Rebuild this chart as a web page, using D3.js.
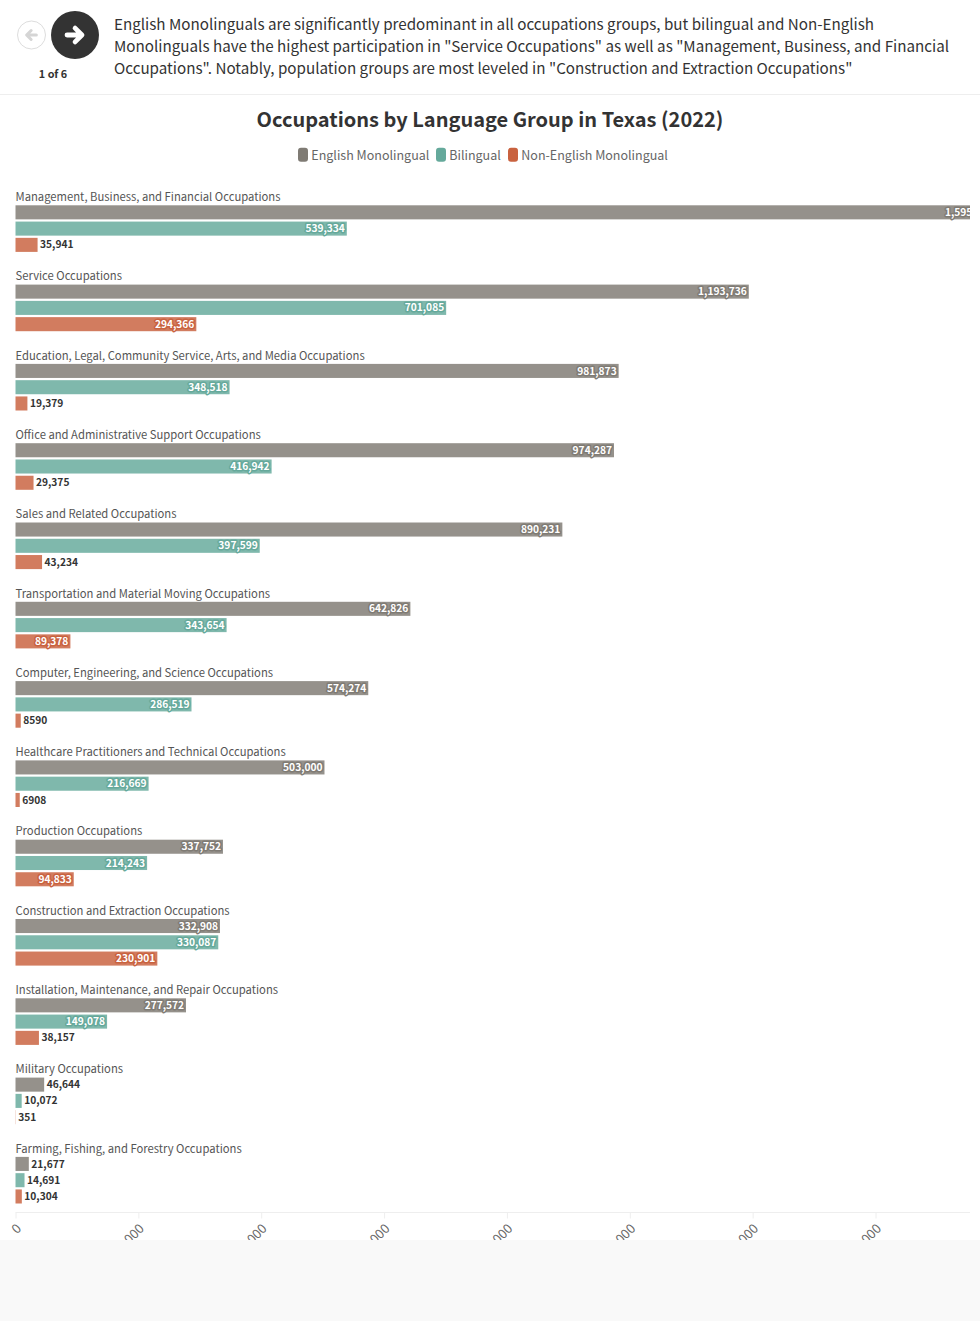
<!DOCTYPE html>
<html><head><meta charset="utf-8">
<script src="https://cdn.jsdelivr.net/npm/d3@7"></script>
<style>
html,body{margin:0;padding:0;background:#f9f9f9}
svg{display:block}
text{font-family:"Noto Sans CJK SC","Noto Sans",sans-serif}
</style></head><body><div id="c"></div>
<script>
const categories=["Management, Business, and Financial Occupations","Service Occupations","Education, Legal, Community Service, Arts, and Media Occupations","Office and Administrative Support Occupations","Sales and Related Occupations","Transportation and Material Moving Occupations","Computer, Engineering, and Science Occupations","Healthcare Practitioners and Technical Occupations","Production Occupations","Construction and Extraction Occupations","Installation, Maintenance, and Repair Occupations","Military Occupations","Farming, Fishing, and Forestry Occupations"];
const englishMonolingual=[1595500,1193736,981873,974287,890231,642826,574274,503000,337752,332908,277572,46644,21677];
const bilingual=[539334,701085,348518,416942,397599,343654,286519,216669,214243,330087,149078,10072,14691];
const nonEnglishMonolingual=[35941,294366,19379,29375,43234,89378,8590,6908,94833,230901,38157,351,10304];
const seriesNames=["English Monolingual","Bilingual","Non-English Monolingual"];
const seriesColors=["#7f7b74","#65a99b","#c9623f"];
const tickValues=[0,200000,400000,600000,800000,1000000,1200000,1400000];
const storyLines=["English Monolinguals are significantly predominant in all occupations groups, but bilingual and Non-English","Monolinguals have the highest participation in \"Service Occupations\" as well as \"Management, Business, and Financial","Occupations\". Notably, population groups are most leveled in \"Construction and Extraction Occupations\""];

const W=980,H=1321;
const svg=d3.select("#c").append("svg").attr("width",W).attr("height",H);
svg.append("rect").attr("width",W).attr("height",H).attr("fill","#f9f9f9");
svg.append("rect").attr("width",W).attr("height",1240).attr("fill","#fff");
const clip=svg.append("defs");
clip.append("clipPath").attr("id","plot").append("rect").attr("x",0).attr("y",0).attr("width",970).attr("height",1321);
clip.append("clipPath").attr("id","axisclip").append("rect").attr("x",0).attr("y",0).attr("width",980).attr("height",1240);

// header
svg.append("line").attr("x1",0).attr("x2",W).attr("y1",94.5).attr("y2",94.5).attr("stroke","#eeeeee");
svg.append("circle").attr("cx",31.5).attr("cy",35).attr("r",14).attr("fill","#fff").attr("stroke","#ddd").attr("stroke-width",1);
const arrow="M-6.5,0H6M0.5,-6L6.5,0L0.5,6";
svg.append("path").attr("d",arrow).attr("transform","translate(31.5,35) scale(-0.75,0.75)").attr("fill","none").attr("stroke","#d5d5d5").attr("stroke-width",4).attr("stroke-linecap","round").attr("stroke-linejoin","round");
svg.append("circle").attr("cx",75).attr("cy",35).attr("r",24).attr("fill","#333");
svg.append("path").attr("d",arrow).attr("transform","translate(74.5,35) scale(1.15)").attr("fill","none").attr("stroke","#fff").attr("stroke-width",4.2).attr("stroke-linecap","round").attr("stroke-linejoin","round");
svg.append("text").attr("x",53).attr("y",78).attr("text-anchor","middle").attr("font-size",10.8).attr("font-weight",700).attr("fill","#333").text("1 of 6");
svg.selectAll("text.story").data(storyLines).join("text").attr("class","story").attr("x",114).attr("y",(d,i)=>29.6+i*22).attr("font-size",15.2).attr("fill","#333").text(d=>d);

svg.append("text").attr("x",490).attr("y",127).attr("text-anchor","middle").attr("font-size",20).attr("font-weight",700).attr("fill","#333").text("Occupations by Language Group in Texas (2022)");

// legend
const legendX=[298,436,508];
const lg=svg.selectAll("g.lg").data(seriesNames).join("g").attr("class","lg").attr("transform",(d,i)=>`translate(${legendX[i]},147.8)`);
lg.append("rect").attr("width",10).attr("height",14).attr("rx",3).attr("fill",(d,i)=>seriesColors[i]);
lg.append("text").attr("x",13.3).attr("y",12).attr("font-size",12.5).attr("fill","#666").text(d=>d);

// chart
const x=d3.scaleLinear().domain([0,1400000]).range([15.5,875.5]);
const y0=d3.scaleBand().domain(categories).range([189.5,1220.4]);
const y1=d3.scaleBand().domain(seriesNames).range([15.8,62.4]).paddingInner(0.136);
const values=[englishMonolingual,bilingual,nonEnglishMonolingual];
const fmt=v=>v<10000&&v>=1000?String(v):d3.format(",")(v);

const plot=svg.append("g").attr("clip-path","url(#plot)");
const groups=plot.selectAll("g.grp").data(categories).join("g").attr("class","grp").attr("transform",d=>`translate(0,${y0(d)})`);
groups.append("text").attr("x",15.5).attr("y",11.5).attr("font-size",11.25).attr("fill","#555").text(d=>d);
seriesNames.forEach((s,si)=>{
  const row=groups.append("g");
  row.append("rect").attr("x",x(0)).attr("y",y1(s)).attr("height",y1.bandwidth())
    .attr("width",(d,i)=>x(values[si][i])-x(0)).attr("fill",seriesColors[si]).attr("fill-opacity",0.83);
  row.each(function(d,i){
    const v=values[si][i],g=d3.select(this),w=x(v)-x(0),text=fmt(v),inside=w>52;
    const ty=y1(s)+y1.bandwidth()/2+3.6;
    if(inside){
      g.append("text").attr("x",x(v)-2).attr("y",ty).attr("text-anchor","end").attr("font-size",10.2).attr("font-weight",700).attr("fill","#fff")
       .attr("stroke",seriesColors[si]).attr("stroke-width",3).attr("stroke-linejoin","round").attr("paint-order","stroke").text(text);
    } else {
      g.append("text").attr("x",x(v)+2.5).attr("y",ty).attr("font-size",10.2).attr("font-weight",700).attr("fill","#333").text(text);
    }
  });
});

// axis
const axG=svg.append("g").attr("clip-path","url(#axisclip)");
const ax=axG.append("g").attr("transform","translate(0,1212.5)").call(d3.axisBottom(x).tickValues(tickValues).tickSize(6).tickPadding(4).tickFormat(d3.format(",")));
ax.select(".domain").attr("d","M15.5,0H970").attr("stroke","#eeeeee");
ax.selectAll(".tick line").attr("stroke","#eeeeee");
ax.selectAll(".tick text").attr("font-size",13).attr("fill","#666").attr("text-anchor","end").attr("dy",0).attr("y",0).attr("transform","translate(6,17) rotate(-45)");
</script></body></html>
